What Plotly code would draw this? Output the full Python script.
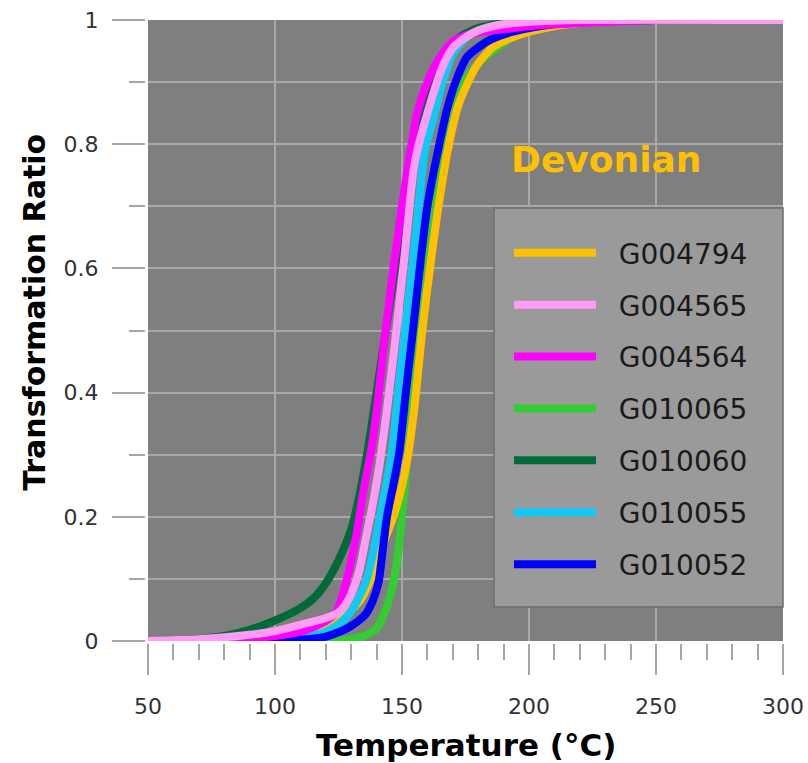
import plotly.graph_objects as go

# Temperature (°C) / Transformation ratio readings for each sample
T_G004794 = [50, 80, 100, 110, 118, 124, 130, 134, 138, 142.6, 146.6, 150, 152.4, 155, 158, 161, 164, 168, 172, 176, 180, 186, 194, 200, 210, 220, 240, 300]
R_G004794 = [0, 0.002, 0.007, 0.012, 0.022, 0.03, 0.05, 0.068, 0.103, 0.157, 0.2, 0.25, 0.3, 0.38, 0.5, 0.6, 0.69, 0.79, 0.86, 0.9, 0.93, 0.957, 0.973, 0.981, 0.99, 0.995, 1, 1]

T_G004565 = [50, 70, 90, 100, 110, 120, 125, 128, 130, 133, 136, 138, 141, 144, 147.5, 151, 155, 160, 166, 170, 175, 180, 188, 200, 220, 300]
R_G004565 = [0, 0.003, 0.01, 0.016, 0.026, 0.037, 0.046, 0.06, 0.075, 0.11, 0.17, 0.21, 0.28, 0.37, 0.49, 0.62, 0.77, 0.85, 0.925, 0.955, 0.972, 0.983, 0.992, 0.997, 1, 1]

T_G004564 = [50, 80, 100, 110, 115, 120, 124, 128, 132, 135, 138, 140, 143, 146, 150, 153, 156, 160, 165, 170, 175, 180, 190, 200, 220, 250, 300]
R_G004564 = [0, 0.002, 0.008, 0.015, 0.022, 0.032, 0.045, 0.095, 0.17, 0.245, 0.31, 0.37, 0.48, 0.58, 0.7, 0.78, 0.85, 0.9, 0.94, 0.965, 0.975, 0.98, 0.985, 0.99, 0.995, 1, 1]

T_G010065 = [50, 120, 130, 135, 140, 144, 146.6, 148.6, 150, 152, 154, 156, 160, 165, 170, 175, 180, 188, 195, 200, 210, 220, 240, 300]
R_G010065 = [0, 0.001, 0.003, 0.008, 0.02, 0.055, 0.093, 0.146, 0.2, 0.29, 0.39, 0.5, 0.66, 0.78, 0.86, 0.905, 0.93, 0.957, 0.975, 0.983, 0.992, 0.997, 1, 1]

T_G010060 = [50, 60, 70, 80, 90, 100, 110, 115, 120, 125, 130, 133, 136.6, 140, 144, 148, 151, 154, 156.5, 161, 165, 168, 172, 176, 180, 190, 200, 220, 300]
R_G010060 = [0, 0.001, 0.003, 0.008, 0.018, 0.033, 0.053, 0.068, 0.093, 0.13, 0.18, 0.23, 0.31, 0.4, 0.51, 0.62, 0.7, 0.78, 0.84, 0.89, 0.93, 0.952, 0.97, 0.98, 0.987, 0.995, 0.998, 1, 1]

T_G010055 = [50, 100, 110, 120, 126, 130, 133, 136.2, 139, 141.3, 143.7, 145.9, 148.5, 151.2, 154, 156.5, 159, 162.3, 166, 170, 175, 180, 190, 200, 220, 300]
R_G010055 = [0, 0.003, 0.006, 0.015, 0.03, 0.048, 0.07, 0.1, 0.15, 0.2, 0.25, 0.3, 0.4, 0.5, 0.6, 0.7, 0.79, 0.84, 0.9, 0.945, 0.97, 0.983, 0.993, 0.997, 1, 1]

T_G010052 = [50, 110, 120, 125, 129.5, 133, 136, 138.5, 140.7, 142.5, 144.1, 146.5, 148.8, 151.5, 154.3, 157, 160, 164.2, 168, 172, 175.5, 183.3, 191, 199, 210, 230, 250, 300]
R_G010052 = [0, 0.002, 0.007, 0.014, 0.023, 0.033, 0.045, 0.065, 0.093, 0.15, 0.2, 0.25, 0.3, 0.4, 0.5, 0.6, 0.7, 0.79, 0.86, 0.91, 0.94, 0.965, 0.978, 0.986, 0.993, 0.998, 1, 1]

SERIES = ["G004794", "G004565", "G004564", "G010065", "G010060", "G010055", "G010052"]
X_TICKS = [50, 100, 150, 200, 250, 300]
Y_TICKS = [0, 0.2, 0.4, 0.6, 0.8, 1]

data = {
    "G004794": (T_G004794, R_G004794),
    "G004565": (T_G004565, R_G004565),
    "G004564": (T_G004564, R_G004564),
    "G010065": (T_G010065, R_G010065),
    "G010060": (T_G010060, R_G010060),
    "G010055": (T_G010055, R_G010055),
    "G010052": (T_G010052, R_G010052),
}
colors = {
    "G004794": "#FFC000",
    "G004565": "#FF9CF5",
    "G004564": "#FF00FF",
    "G010065": "#33CC33",
    "G010060": "#006B38",
    "G010055": "#14C8F5",
    "G010052": "#0000FF",
}
zorders = {"G010065": 1, "G010060": 2, "G004794": 3, "G010055": 4, "G010052": 5, "G004564": 6, "G004565": 7}

fig = go.Figure()
for name in SERIES:
    t, r = data[name]
    fig.add_trace(go.Scatter(
        x=t, y=r, mode="lines", name="\u00a0\u00a0" + name,
        legendgroup=name,
        line=dict(color=colors[name], width=8, shape="spline", smoothing=0.7),
        cliponaxis=False, zorder=zorders[name],
    ))

tick_font = dict(family="DejaVu Sans", size=22, color="#333333")
fig.update_layout(
    width=808, height=763,
    margin=dict(l=148, r=25, t=20, b=122),
    paper_bgcolor="white",
    plot_bgcolor="#7F7F7F",
    showlegend=True,
    legend=dict(
        x=0.5685, xanchor="left", y=0.665, yanchor="top",
        bgcolor="rgba(0,0,0,0)", borderwidth=0,
        font=dict(family="DejaVu Sans", size=28, color="#1A1A1A"),
        itemwidth=82, traceorder="grouped", tracegroupgap=12.5,
    ),
    shapes=[
        dict(type="rect", xref="paper", yref="paper", x0=0.5449, x1=1.0, y0=0.0548, y1=0.6973,
             fillcolor="#9A9A9A", line=dict(color="#6E6E6E", width=1.5), layer="above"),
    ],
    xaxis=dict(
        range=[50, 300], tickvals=X_TICKS, ticks="outside", ticklen=31, tickwidth=2,
        tickcolor="#A6A6A6", tickfont=tick_font, ticklabelstandoff=13, ticklabeloverflow="allow",
        showgrid=True, gridcolor="#A8A8A8", gridwidth=1.5, zeroline=False,
        showline=True, linecolor="black", linewidth=3, mirror=True,
        layer="below traces", automargin=False,
        minor=dict(dtick=10, ticklen=16, tickwidth=2, tickcolor="#A6A6A6", showgrid=False, ticks="outside"),
    ),
    yaxis=dict(
        range=[0, 1], tickvals=Y_TICKS, ticks="outside", ticklen=33, tickwidth=2,
        tickcolor="#A6A6A6", tickfont=tick_font, ticklabelstandoff=9, ticklabeloverflow="allow",
        showgrid=True, gridcolor="#A8A8A8", gridwidth=1.5, zeroline=False,
        showline=True, linecolor="black", linewidth=3, mirror=True,
        layer="below traces", automargin=False,
        minor=dict(dtick=0.1, ticklen=16, tickwidth=2, tickcolor="#A6A6A6", showgrid=True,
                   gridcolor="#A8A8A8", gridwidth=1.5, ticks="outside"),
    ),
    annotations=[
        dict(text="<b>Devonian</b>", x=0.721, y=0.775, xref="paper", yref="paper",
             xanchor="center", yanchor="middle",
             showarrow=False, font=dict(family="DejaVu Sans", size=36, color="#FFC000")),
        dict(text="<b>Temperature (°C)</b>", x=0.5, y=-0.1675, xref="paper", yref="paper",
             xanchor="center", yanchor="middle",
             showarrow=False, font=dict(family="DejaVu Sans", size=31, color="black")),
        dict(text="<b>Transformation Ratio</b>", x=-0.178, y=0.53, xref="paper", yref="paper",
             xanchor="center", yanchor="middle",
             showarrow=False, textangle=-90, font=dict(family="DejaVu Sans", size=30, color="black")),
    ],
)

fig.write_html(
    "out.html",
    config={"displayModeBar": False},
    post_script="document.body.style.margin='0';document.body.style.overflow='hidden';",
)
